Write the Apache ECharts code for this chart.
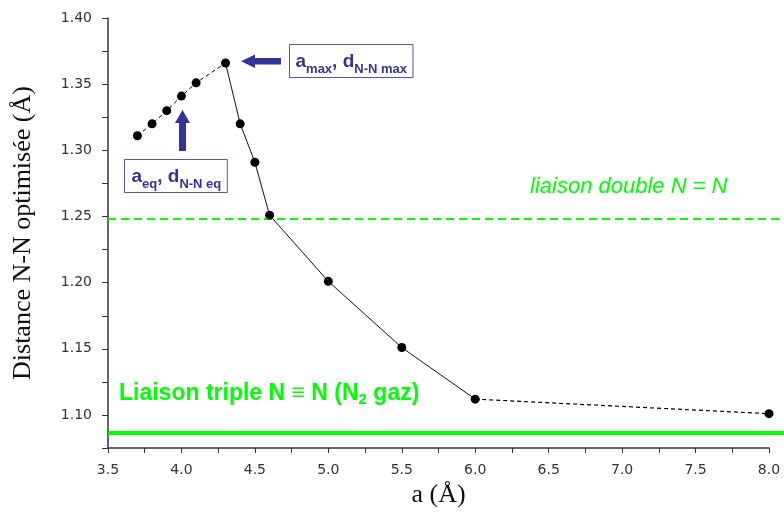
<!DOCTYPE html>
<html>
<head>
<meta charset="utf-8">
<script src="https://cdn.jsdelivr.net/npm/echarts@6/dist/echarts.min.js"></script>
<style>html,body{margin:0;padding:0;background:#fff;overflow:hidden}#c{width:784px;height:513px}</style>
</head>
<body>
<div id="c"></div>
<script>
// ---- data ----
const aValues = [3.7, 3.8, 3.9, 4.0, 4.1, 4.3, 4.4, 4.5, 4.6, 5.0, 5.5, 6.0, 8.0];
const dValues = [1.311, 1.320, 1.330, 1.341, 1.351, 1.366, 1.320, 1.291, 1.251, 1.201, 1.151, 1.112, 1.101];
const doubleBond = 1.25;
const tripleBond = 1.09;
const xTicks = [3.5, 4.0, 4.5, 5.0, 5.5, 6.0, 6.5, 7.0, 7.5, 8.0];
const yTicks = [1.10, 1.15, 1.20, 1.25, 1.30, 1.35, 1.40];

const pts = aValues.map((a, i) => [a, dValues[i]]);
const segDashed1 = pts.slice(0, 6);
const segSolid = pts.slice(5, 12);
const segDashed2 = pts.slice(11, 13);

const isTick = (arr, v) => arr.some(t => Math.abs(t - v) < 1e-6);
const green = '#00ff00';
const blue = '#333399';
const sans = 'Liberation Sans, Arial, sans-serif';
const tickFont = 'DejaVu Sans, sans-serif';
const serif = 'Liberation Serif, Times New Roman, serif';

const chart = echarts.init(document.getElementById('c'));
chart.setOption({
  animation: false,
  backgroundColor: '#fff',
  grid: [
    {left: 108, right: 15, top: 18, bottom: 60},
    {left: 108, right: 0, top: 18, bottom: 60}
  ],
  xAxis: [{
    type: 'value', gridIndex: 0, min: 3.5, max: 8.0, interval: 0.25,
    name: 'a (Å)', nameLocation: 'middle', nameGap: 30,
    nameTextStyle: {fontFamily: serif, fontSize: 26, color: '#111'},
    axisLine: {lineStyle: {color: '#333', width: 1.5}},
    axisTick: {length: 5, lineStyle: {color: '#333'}},
    splitLine: {show: false},
    axisLabel: {margin: 15, fontFamily: tickFont, fontSize: 14, color: '#333',
      formatter: v => isTick(xTicks, v) ? v.toFixed(1) : ''}
  }, {
    type: 'value', gridIndex: 1, min: 0, max: 1, show: false
  }],
  yAxis: [{
    type: 'value', gridIndex: 0, min: 1.075, max: 1.40, interval: 0.025,
    name: 'Distance N-N optimisée (Å)', nameLocation: 'middle', nameGap: 72,
    nameTextStyle: {fontFamily: serif, fontSize: 26, color: '#111'},
    axisLine: {lineStyle: {color: '#333', width: 1.5}},
    axisTick: {length: 6, lineStyle: {color: '#333'}},
    splitLine: {show: false},
    axisLabel: {margin: 16, fontFamily: tickFont, fontSize: 14, color: '#333',
      formatter: v => isTick(yTicks, v) ? v.toFixed(2) : ''}
  }, {
    type: 'value', gridIndex: 1, min: 1.075, max: 1.40, show: false
  }],
  series: [
    {
      type: 'line', xAxisIndex: 1, yAxisIndex: 1, data: [], silent: true,
      markLine: {
        symbol: 'none', silent: true, label: {show: false},
        data: [
          {yAxis: doubleBond, lineStyle: {color: green, width: 2, type: [8, 5]}},
          {yAxis: tripleBond, lineStyle: {color: green, width: 4, type: 'solid'}}
        ]
      }
    },
    {type: 'line', data: segDashed1, symbol: 'none', lineStyle: {color: '#000', width: 1, type: [4, 3]}},
    {type: 'line', data: segSolid, symbol: 'none', lineStyle: {color: '#111', width: 1}},
    {type: 'line', data: segDashed2, symbol: 'none', lineStyle: {color: '#000', width: 1.2, type: [4, 3]}},
    {type: 'scatter', data: pts, symbol: 'circle', symbolSize: 9, itemStyle: {color: '#000', opacity: 1}, z: 5}
  ],
  graphic: [
    {
      type: 'text', left: 530, top: 176,
      style: {text: 'liaison double N = N', fill: green, fontFamily: sans, fontStyle: 'italic', fontSize: 22}
    },
    {
      type: 'text', left: 119, top: 382,
      style: {
        text: '{a|Liaison triple N ≡ N (N}{s|2}{a| gaz)}',
        rich: {
          a: {fill: green, fontFamily: sans, fontWeight: 'bold', fontSize: 23, lineHeight: 28},
          s: {fill: green, fontFamily: sans, fontWeight: 'bold', fontSize: 15, lineHeight: 15, verticalAlign: 'bottom', padding: [9, 0, 0, 0]}
        }
      }
    },
    {
      type: 'text', left: 124, top: 159,
      style: {
        text: '{a|a}{s|eq}{a|, d}{s|N-N eq}',
        borderColor: '#5555aa', borderWidth: 1, padding: [3, 6, 2, 7],
        rich: {
          a: {fill: blue, fontFamily: sans, fontWeight: 'bold', fontSize: 19, lineHeight: 28},
          s: {fill: blue, fontFamily: sans, fontWeight: 'bold', fontSize: 13, lineHeight: 13, verticalAlign: 'bottom', padding: [9, 0, 0, 0]}
        }
      }
    },
    {
      type: 'text', left: 289, top: 44,
      style: {
        text: '{a|a}{s|max}{a|, d}{s|N-N max}',
        borderColor: '#5555aa', borderWidth: 1, padding: [3, 6, 2, 6],
        rich: {
          a: {fill: blue, fontFamily: sans, fontWeight: 'bold', fontSize: 19, lineHeight: 28},
          s: {fill: blue, fontFamily: sans, fontWeight: 'bold', fontSize: 13, lineHeight: 13, verticalAlign: 'bottom', padding: [9, 0, 0, 0]}
        }
      }
    },
    {
      type: 'polygon',
      shape: {points: [[179, 151], [186, 151], [186, 123], [190, 123], [182.5, 110], [175, 123], [179, 123]]},
      style: {fill: blue}
    },
    {
      type: 'polygon',
      shape: {points: [[281, 58], [281, 64.5], [255, 64.5], [255, 68], [241, 61.2], [255, 54.5], [255, 58]]},
      style: {fill: blue}
    }
  ]
});
</script>
</body>
</html>
